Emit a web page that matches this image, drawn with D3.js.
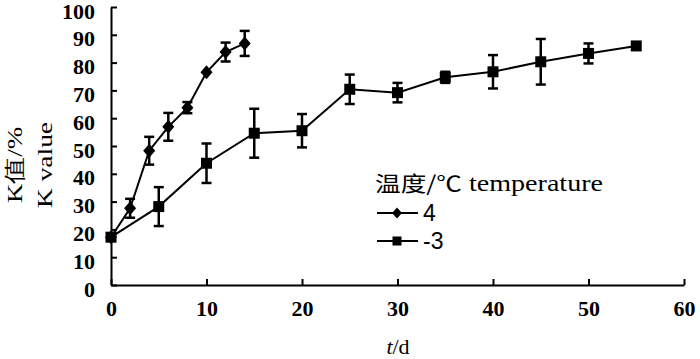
<!DOCTYPE html>
<html><head><meta charset="utf-8">
<script src="https://cdn.jsdelivr.net/npm/d3@7"></script>
<style>body{margin:0;background:#fff}svg{display:block}text{font-family:"Liberation Serif","Times New Roman","DejaVu Serif",serif;fill:#000}</style>
</head><body><svg id="c" width="700" height="359"></svg>
<script>
const days4 = [0, 2, 4, 6, 8, 10, 12, 14];
const kValue4 = [17.2, 27.6, 48.3, 56.9, 63.8, 76.5, 83.8, 86.9];
const err4 = [0, 3.4, 5.0, 5.0, 2.0, 0, 3.4, 4.5];
const daysM3 = [0, 5, 10, 15, 20, 25, 30, 35, 40, 45, 50, 55];
const kValueM3 = [17.2, 28.2, 43.8, 54.6, 55.5, 70.4, 69.2, 74.7, 76.7, 80.3, 83.3, 86.0];
const errM3 = [0, 7.0, 7.1, 8.8, 6.0, 5.3, 3.5, 2.0, 6.0, 8.2, 3.6, 0];
const xTicks = [0, 10, 20, 30, 40, 50, 60];
const yTicks = [0, 10, 20, 30, 40, 50, 60, 70, 80, 90, 100];
const seriesNames = ["4", "-3"];
const legendTitleCn = "温度/℃";
const legendTitleEn = " temperature";

const serif = '"Liberation Serif","Times New Roman",serif';
const svg = d3.select("#c");
const x = d3.scaleLinear().domain([0, 60]).range([111, 684]);
const y = d3.scaleLinear().domain([0, 100]).range([285, 7]);

// axes
const xAxis = svg.append("g").attr("transform", `translate(0,${y(0)})`)
  .call(d3.axisBottom(x).tickValues(xTicks).tickSizeInner(-6).tickSizeOuter(0).tickPadding(15));
const yAxis = svg.append("g").attr("transform", `translate(${x(0)},0)`)
  .call(d3.axisLeft(y).tickValues(yTicks).tickSizeInner(-6).tickSizeOuter(0).tickPadding(16));
[xAxis, yAxis].forEach(g => {
  g.attr("font-family", null);
  g.select(".domain").attr("stroke", "#000").attr("stroke-width", 2);
  g.selectAll(".tick line").attr("stroke", "#000").attr("stroke-width", 2);
  g.selectAll("text").attr("font-size", 22).attr("font-weight", "bold").style("font-family", serif).attr("fill", "#000");
});
xAxis.selectAll("text").attr("dy", "0.71em");
yAxis.selectAll("text").attr("dy", "0.5em");

// axis titles
const xt = svg.append("text").attr("x", 398).attr("y", 354).attr("text-anchor", "middle").attr("font-size", 22);
xt.append("tspan").attr("font-style", "italic").text("t");
xt.append("tspan").text("/d");
svg.append("text").attr("transform", "translate(22,165) rotate(-90)").attr("text-anchor", "middle")
  .attr("font-size", 22).attr("textLength", 76).attr("lengthAdjust", "spacingAndGlyphs").text("K值/%");
svg.append("text").attr("transform", "translate(52,165) rotate(-90)").attr("text-anchor", "middle")
  .attr("font-size", 22).attr("textLength", 86).attr("lengthAdjust", "spacingAndGlyphs").text("K value");

function drawSeries(xs, ys, es, marker) {
  const data = xs.map((d, i) => ({x: d, y: ys[i], e: es[i]}));
  const g = svg.append("g");
  g.append("path").datum(data).attr("fill", "none").attr("stroke", "#000").attr("stroke-width", 2)
    .attr("d", d3.line().x(d => x(d.x)).y(d => y(d.y)));
  const eb = g.selectAll(".eb").data(data.filter(d => d.e > 0)).join("g");
  eb.append("line").attr("x1", d => x(d.x)).attr("x2", d => x(d.x))
    .attr("y1", d => y(d.y - d.e)).attr("y2", d => y(d.y + d.e)).attr("stroke", "#000").attr("stroke-width", 2.5);
  [-1, 1].forEach(s => eb.append("line").attr("x1", d => x(d.x) - 5).attr("x2", d => x(d.x) + 5)
    .attr("y1", d => y(d.y + s * d.e)).attr("y2", d => y(d.y + s * d.e)).attr("stroke", "#000").attr("stroke-width", 2.5));
  g.selectAll(".m").data(data).join("path")
    .attr("transform", d => `translate(${x(d.x)},${y(d.y)})`)
    .attr("d", marker).attr("fill", "#000");
}
const diamond = "M0,-7L6,0L0,7L-6,0Z";
const square = "M-5.5,-5.5H5.5V5.5H-5.5Z";
drawSeries(daysM3, kValueM3, errM3, square);
drawSeries(days4, kValue4, err4, diamond);

// legend
const lt = svg.append("text").attr("x", 375).attr("y", 191).attr("font-size", 23)
  .attr("textLength", 228).attr("lengthAdjust", "spacingAndGlyphs");
lt.append("tspan").style("font-family", '"Noto Sans CJK SC",sans-serif').attr("font-size", 21).text(legendTitleCn);
lt.append("tspan").style("font-family", serif).text(legendTitleEn);
const legMarkers = ["M0,-5.5L5,0L0,5.5L-5,0Z", "M-4.5,-4.5H4.5V4.5H-4.5Z"];
seriesNames.forEach((n, i) => {
  const cy = 213 + i * 28;
  svg.append("line").attr("x1", 377).attr("x2", 418).attr("y1", cy).attr("y2", cy).attr("stroke", "#000").attr("stroke-width", 2);
  svg.append("path").attr("transform", `translate(397,${cy})`).attr("d", legMarkers[i]).attr("fill", "#000");
  svg.append("text").attr("x", 423).attr("y", cy).attr("dy", "0.36em").attr("font-size", 23).style("font-family", '"Liberation Sans",Arial,sans-serif').text(n);
});
</script></body></html>
